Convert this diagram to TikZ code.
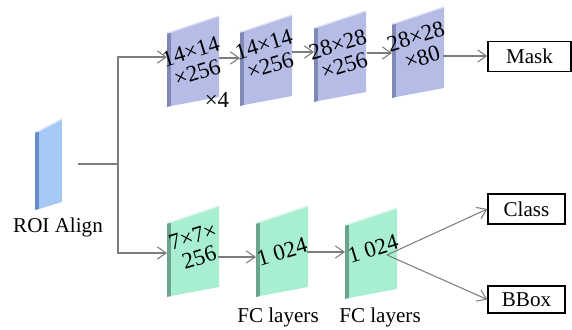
\documentclass[tikz,border=0pt]{standalone}
\usepackage{fontspec}
\setmainfont{Liberation Serif}
\usetikzlibrary{arrows,arrows.meta}
\definecolor{lavfront}{RGB}{181,189,230}
\definecolor{lavside}{RGB}{128,137,182}
\definecolor{grnfront}{RGB}{168,238,208}
\definecolor{grnside}{RGB}{106,164,138}
\definecolor{roifront}{RGB}{166,200,245}
\definecolor{roiside}{RGB}{104,140,200}
\definecolor{linegray}{RGB}{125,125,125}
\tikzset{
  pics/slab/.style 2 args={code={
    \fill[#2] (0,0) -- (4,-1) -- (4,73) -- (0,74) -- cycle;
    \fill[#1] (4,-1) -- (52,-17) -- (52,64) -- (4,73) -- cycle;
    \draw[white!55!#1,line width=0.8pt] (0,0) -- (4,-1) -- (52,-17);
  }},
  paneltxt/.style={rotate=17,align=center,inner sep=0pt,font=\fontsize{13}{12.5}\selectfont},
  outbox/.style={draw,line width=0.8pt,minimum width=1.54cm,minimum height=0.6cm,inner sep=0pt,font=\fontsize{12}{14}\selectfont},
  lbl/.style={font=\fontsize{12}{14}\selectfont,inner sep=0pt},
  conn/.style={draw=linegray,line width=0.6pt,>={Straight Barb[length=5pt,width=7pt]}}
}
\begin{document}
\begin{tikzpicture}[x=0.02cm,y=-0.02cm]
\useasboundingbox (0,0) rectangle (572,329);

\fill[roiside] (35,132) -- (39,131) -- (39,209) -- (35,210) -- cycle;
\fill[roifront] (39,131) -- (62,119) -- (62,202) -- (39,209) -- cycle;
\draw[white!55!roifront,line width=0.8pt] (35,132) -- (39,131) -- (62,119);

\pic at (167,33) {slab={lavfront}{lavside}};
\pic at (240,32) {slab={lavfront}{lavside}};
\pic at (314,28) {slab={lavfront}{lavside}};
\pic at (392,24) {slab={lavfront}{lavside}};
\pic at (167,223) {slab={grnfront}{grnside}};
\pic at (256,223) {slab={grnfront}{grnside}};
\pic at (345,225) {slab={grnfront}{grnside}};

\node[paneltxt] (m1) at (194,62) {14×14\\×256};
\node[paneltxt] (m2) at (267,55) {14×14\\×256};
\node[paneltxt] (m3) at (341,55) {28×28\\×256};
\node[paneltxt] (m4) at (419,47) {28×28\\×80};
\node[lbl,font=\fontsize{13}{14}\selectfont] (rep) at (217,100) {×4};
\node[paneltxt] (f1) at (196,247) {7×7×\\256};
\node[paneltxt] (f2) at (282,252) {1 024};
\node[paneltxt] (f3) at (373,249) {1 024};

\node[lbl] (roi) at (58,227) {ROI Align};
\node[lbl] (fc1) at (278,317) {FC layers};
\node[lbl] (fc2) at (380,317) {FC layers};

\node[outbox,minimum width=1.66cm] (mask) at (529.5,56.5) {Mask};
\node[outbox] (class) at (526.5,209) {Class};
\node[outbox,minimum height=0.54cm] (bbox) at (526.5,299.5) {BBox};

\coordinate (roiout) at (78,164);
\coordinate (fork) at (118,164);
\coordinate (m1in) at (167,57);
\coordinate (m1out) at (219,58);
\coordinate (m2in) at (240,58);
\coordinate (m2out) at (292,52);
\coordinate (m3in) at (314,52);
\coordinate (m3out) at (367,53);
\coordinate (m4in) at (392,53);
\coordinate (m4out) at (443,56);
\coordinate (f1in) at (167,253);
\coordinate (f1out) at (218,257);
\coordinate (f2in) at (256,257);
\coordinate (f2out) at (307,252);
\coordinate (f3in) at (345,252);
\coordinate (f3out) at (387,255);

\draw[conn] (roiout) -- (fork);
\draw[conn,->] (fork) |- (m1in);
\draw[conn,->] (fork) |- (f1in);
\path[conn]
(m1out) edge[->] (m2in)
(m2out) edge[->] (m3in)
(m3out) edge[->] (m4in)
(m4out) edge[->] (m4out -| mask.west)
(f1out) edge[->] (f2in)
(f2out) edge[->] (f3in)
(f3out) edge[->] (class.west)
(f3out) edge[->] (bbox.west);
\end{tikzpicture}
\end{document}
